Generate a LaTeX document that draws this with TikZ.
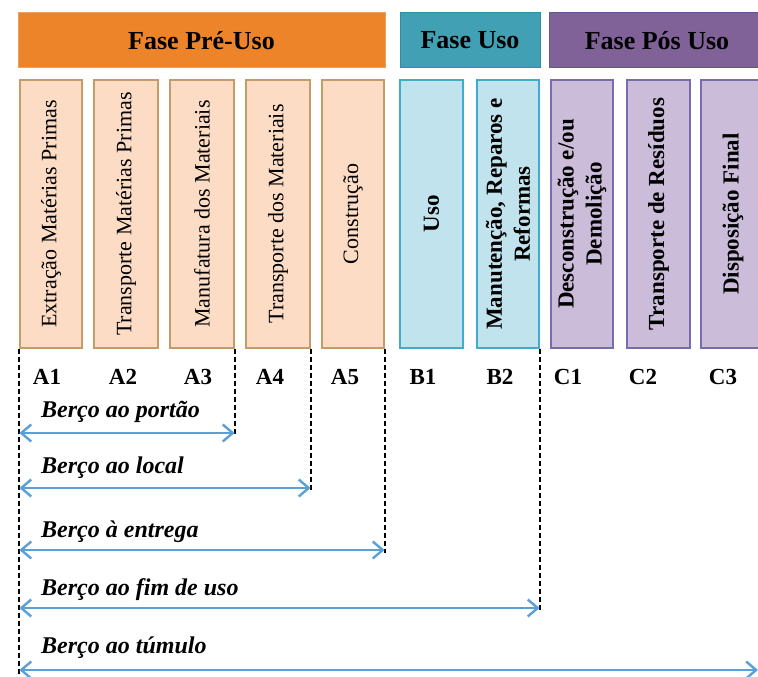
\documentclass[tikz,border=0pt]{standalone}
\usepackage{fontspec}
\setmainfont{Liberation Serif}
\usetikzlibrary{arrows.meta}

\definecolor{preuso}{RGB}{238,132,42}
\definecolor{preusoB}{RGB}{232,160,100}
\definecolor{uso}{RGB}{66,160,180}
\definecolor{usoB}{RGB}{50,140,165}
\definecolor{posuso}{RGB}{128,98,152}
\definecolor{posusoB}{RGB}{95,90,150}
\definecolor{preusoL}{RGB}{252,220,196}
\definecolor{preusoE}{RGB}{196,156,104}
\definecolor{usoL}{RGB}{192,227,237}
\definecolor{usoE}{RGB}{64,172,204}
\definecolor{posusoL}{RGB}{203,188,218}
\definecolor{posusoE}{RGB}{118,110,172}
\definecolor{spanblue}{RGB}{90,160,215}

\tikzset{
  phase/.style={draw, line width=1pt, minimum height=55, inner sep=0pt,
    font=\fontsize{26}{30}\selectfont\bfseries},
  module/.style={draw, line width=1.2pt, minimum height=268, inner sep=0pt},
  boxA/.style={draw=preusoE, fill=preusoL, font=\fontsize{22}{28}\selectfont},
  boxB/.style={draw=usoE, fill=usoL, font=\fontsize{23}{28}\selectfont\bfseries},
  boxC/.style={draw=posusoE, fill=posusoL, font=\fontsize{23}{28}\selectfont\bfseries},
  modlabel/.style={font=\fontsize{23}{28}\selectfont\bfseries},
  cutline/.style={line width=2pt, dash pattern=on 5pt off 3pt},
  span/.style={draw=spanblue, line width=2.4pt,
    {Straight Barb[length=10pt,width=17pt]}-{Straight Barb[length=10pt,width=17pt]}},
  spanlabel/.style={anchor=west, inner sep=0pt,
    font=\fontsize{24}{28}\selectfont\bfseries\itshape}
}

\begin{document}
\begin{tikzpicture}[x=1pt,y=-1pt]
\useasboundingbox (0,0) rectangle (758,677);

% phases
\node[phase, fill=preuso, draw=preusoB, minimum width=367] (fpre) at (201.5,40.5) {Fase Pré-Uso};
\node[phase, fill=uso, draw=usoB, minimum width=140] (fuso) at (470,40.5) {Fase Uso};
\node[phase, fill=posuso, draw=posusoB, minimum width=216] (fpos) at (657,40.5) {Fase Pós Uso};

% modules
\foreach \n/\xl/\xr/\kind/\txt in {
  A1/20/82/boxA/{Extração Matérias Primas},
  A2/94/158/boxA/{Transporte Matérias Primas},
  A3/170/234/boxA/{Manufatura dos Materiais},
  A4/246/310/boxA/{Transporte dos Materiais},
  A5/322/384/boxA/{Construção},
  B1/400/463/boxB/{Uso},
  B2/477/539/boxB/{Manutenção, Reparos e\\Reformas},
  C1/551/613/boxC/{Desconstrução e/ou\\Demolição},
  C2/627/690/boxC/{Transporte de Resíduos},
  C3/701/765/boxC/{Disposição Final}}
{
  \node[module, \kind, minimum width=\xr-\xl] (\n) at ({(\xl+\xr)/2},214) {};
  \node[\kind, draw=none, fill=none, rotate=90, align=center] (t\n) at (\n) {\txt};
}

\foreach \n/\xx in {A1/47, A2/123, A3/198, A4/270, A5/345, B1/423, B2/500, C1/568, C2/643, C3/723}
  \node[modlabel] (l\n) at (\xx,377) {\n};

% boundaries
\draw[cutline] (A1.south west) -- ++(0,329) coordinate (base);
\foreach \m/\yy/\i in {A3/433/1, A4/488/2, A5/550/3, B2/608/4}
{
  \coordinate (e\i) at (\m.south east |- 0,\yy);
  \coordinate (s\i) at (A1.south west |- 0,\yy);
  \draw[cutline] (\m.south east) -- ([yshift=-3pt]e\i);
}
\coordinate (e5) at (758,670);
\coordinate (s5) at (A1.south west |- 0,670);

% spans
\foreach \i in {1,...,5}
  \draw[span] (s\i) -- (e\i);
\foreach \i/\yy/\txt in {1/412/Berço ao portão, 2/468/Berço ao local, 3/532/Berço à entrega,
  4/590/Berço ao fim de uso, 5/648/Berço ao túmulo}
  \node[spanlabel] (b\i) at (41,\yy) {\txt};
\end{tikzpicture}
\end{document}
